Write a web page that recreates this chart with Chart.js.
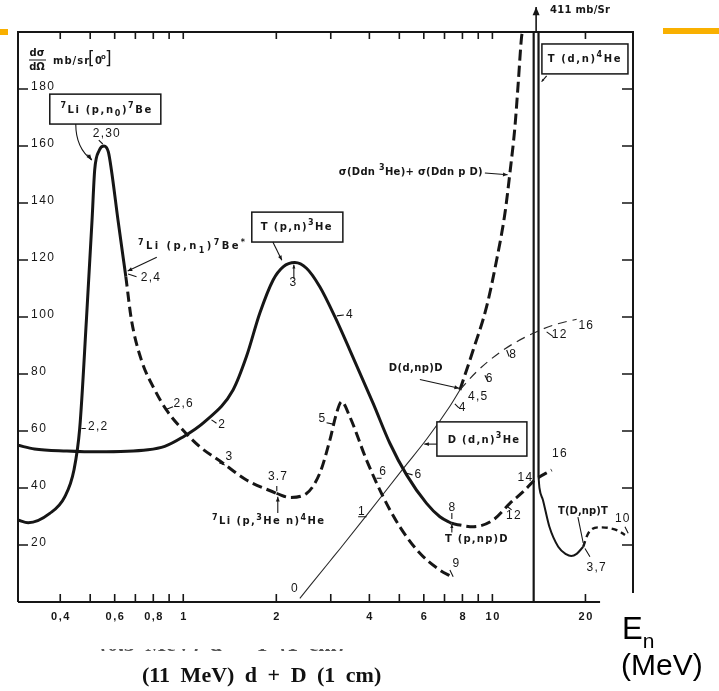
<!DOCTYPE html>
<html>
<head>
<meta charset="utf-8">
<title>Neutron source cross sections at 0°</title>
<script src="https://cdn.jsdelivr.net/npm/chart.js@4.4.0/dist/chart.umd.min.js"></script>
<style>
  html, body { margin: 0; padding: 0; background: #fff; }
  #wrap { position: relative; width: 719px; height: 691px; overflow: hidden; }
  #chart { position: absolute; left: 0; top: 0; }
  .bar { position: absolute; height: 6px; background: #f9b000; }
  .caption { position: absolute; font-family: "Liberation Serif", "Times New Roman", serif; font-weight: bold; font-size: 22px; word-spacing: 5px; color: #111; white-space: nowrap; }
  .ghost { position: absolute; left: 100px; top: 649px; width: 250px; height: 2px; overflow: hidden; }
  .ghost span { position: absolute; left: 0; top: -18px; font-family: "Liberation Serif", serif; font-weight: bold; font-size: 22px; word-spacing: 5px; color: #555; white-space: nowrap; }
  .unit { position: absolute; font-family: "Liberation Sans", Arial, sans-serif; color: #000; line-height: 1; white-space: nowrap; }
</style>
</head>
<body>
<div id="wrap">
  <canvas id="chart" width="719" height="691"></canvas>
  <div class="bar" style="left:0; top:29px; width:8px;"></div>
  <div class="bar" style="left:663px; top:28px; width:56px;"></div>
  <div class="ghost"><span>(0,5 MeV) d + T (1 cm)</span></div>
  <div class="caption" style="left:142px; top:662px;">(11 MeV) d + D (1 cm)</div>
  <div class="unit" style="left:622px; top:613px; font-size:31px;">E<span style="font-size:21px; position:relative; top:9px;">n</span></div>
  <div class="unit" style="left:621px; top:650px; font-size:30px;">(MeV)</div>
</div>

<script>
/* ------------------------------------------------------------
   Zero-degree neutron yield cross sections vs neutron energy
   ------------------------------------------------------------ */

// axes: neutron energy (MeV, log) and dσ/dΩ (mb/sr)
const xRange = [0.292, 28.5];
const yRange = [0, 200];
const xTickValues = [0.4, 0.6, 0.8, 1, 2, 4, 6, 8, 10, 20];
const xTickLabels = ['0,4', '0,6', '0,8', '1', '2', '4', '6', '8', '10', '20'];
const xMinorTicks = [0.4, 0.5, 0.6, 0.7, 0.8, 0.9, 1, 2, 3, 4, 5, 6, 7, 8, 9, 10, 20];
const yTickValues = [20, 40, 60, 80, 100, 120, 140, 160, 180];
const xAxisEnd = 22.3;      // bottom axis line stops here
const rightFrameFloor = 3.2; // right frame line stops here

// 7Li(p,n0)7Be
const li7n0E = [0.292, 0.315, 0.37, 0.4136, 0.443, 0.4624, 0.486, 0.5069, 0.517, 0.535, 0.554, 0.572, 0.5855, 0.615, 0.652];
const li7n0S = [28.8, 27.8, 31.1, 36.9, 46.3, 60.9, 98.9, 134, 151.6, 158.5, 160, 158, 151.6, 134, 114.1];

// 7Li(p,n1)7Be*
const li7n1E = [0.652, 0.68, 0.732, 0.809, 0.882, 0.987, 1.131, 1.345, 1.601, 2.003];
const li7n1S = [114.1, 98.9, 84.9, 74.4, 67.4, 60.9, 54.5, 48.7, 42.8, 38.1];

// 7Li(p,3He n)4He
const li7heE = [2.003, 2.211, 2.504, 2.765, 2.98, 3.131, 3.251, 3.458, 3.916, 4.432, 5.019, 5.828, 6.764, 7.379];
const li7heS = [38.1, 36.7, 38.1, 45.2, 56.8, 66.2, 70.3, 65, 49.8, 36.9, 26.4, 17.1, 11.2, 8.9];

// T(p,n)3He
const tpnE = [0.292, 0.33, 0.42, 0.53, 0.769, 0.871, 0.987, 1.174, 1.449, 1.601, 1.768, 1.953, 2.104, 2.296, 2.504, 2.765, 3.093, 3.458, 4.114, 4.659, 5.277, 6.124, 6.764, 7.379];
const tpnS = [55.0, 53.7, 53.0, 52.7, 53.4, 54.6, 57.6, 63.3, 74.4, 86.1, 101.3, 113, 117.6, 119.1, 117.1, 110.6, 100.1, 88.4, 69.7, 55.7, 44.6, 34.6, 29.9, 27.6];

// T(p,np)D
const tpnpE = [7.379, 7.85, 8.667, 10.06, 11.39, 12.58, 13.73, 15.55];
const tpnpS = [27.6, 27, 26.4, 28.8, 34.6, 38.7, 42.8, 46.3];

// D(d,n)3He
const ddnE = [2.383, 2.98, 3.21, 3.916, 5.144, 6.124, 7.286, 7.85];
const ddnS = [1.3, 14.3, 18.6, 30.4, 46.8, 57.1, 68.7, 74.4];

// D(d,np)D
const ddnpE = [7.85, 8.889, 10.84, 13.55, 16.13, 18.73];
const ddnpS = [74.4, 80.8, 88.4, 94.3, 97.5, 99.2];

// σ(Ddn 3He) + σ(Ddn p D)
const ddSumE = [7.85, 8.667, 9.577, 10.32, 10.98, 11.39, 11.83, 12.12, 12.43, 12.51];
const ddSumS = [74.4, 88.4, 103.6, 120, 136.4, 150.4, 166.8, 182, 198.4, 200];

// T(d,n)4He: narrow peak (runs off scale, 411 mb/sr) and its tail
const tdnRiseE = [13.6, 13.6];
const tdnRiseS = [0, 200];
const tdnFallE = [14.1, 14.1];
const tdnFallS = [200, 44];
const tdnTailE = [14.1, 14.2, 14.57, 15.29, 16.33, 17.3, 18.0, 18.73, 19.67];
const tdnTailS = [44, 40, 35.8, 26.4, 19.4, 16.8, 16.1, 16.9, 19.4];
const tdnPeak = 411;

// T(D,np)T
const tdnpE = [19.67, 20.42, 22.28, 24.01, 25.86, 26.84];
const tdnpS = [19.4, 24.1, 26.2, 25.9, 24.7, 23.5];

const INK = '#161616';

function pts(xs, ys) { return xs.map((x, i) => ({ x, y: ys[i] })); }

function curve(label, xs, ys, style) {
  return Object.assign({
    label,
    data: pts(xs, ys),
    showLine: true,
    pointRadius: 0,
    borderColor: INK,
    backgroundColor: INK,
    borderWidth: 3,
    fill: false,
    cubicInterpolationMode: 'monotone',
    borderCapStyle: 'butt'
  }, style);
}

const DASH = [10, 5];
const straight = { cubicInterpolationMode: 'default', tension: 0 };

const datasets = [
  curve('7Li(p,n0)7Be', li7n0E, li7n0S, {}),
  curve('7Li(p,n1)7Be*', li7n1E, li7n1S, { borderDash: DASH }),
  curve('7Li(p,3He n)4He', li7heE, li7heS, { borderDash: DASH }),
  curve('T(p,n)3He', tpnE, tpnS, {}),
  curve('T(p,np)D', tpnpE, tpnpS, { borderDash: DASH }),
  curve('D(d,n)3He', ddnE, ddnS, { borderWidth: 1.1, borderColor: '#2a2a2a' }),
  curve('D(d,np)D', ddnpE, ddnpS, { borderWidth: 1.2, borderDash: [9, 6], borderColor: '#2a2a2a' }),
  curve('σ(Ddn 3He)+σ(Ddn p D)', ddSumE, ddSumS, { borderDash: [11, 5] }),
  curve('T(d,n)4He rise', tdnRiseE, tdnRiseS, Object.assign({ borderWidth: 2.2 }, straight)),
  curve('T(d,n)4He fall', tdnFallE, tdnFallS, Object.assign({ borderWidth: 2.2 }, straight)),
  curve('T(d,n)4He tail', tdnTailE, tdnTailS, { borderWidth: 2 }),
  curve('T(D,np)T', tdnpE, tdnpS, { borderWidth: 2.4, borderDash: [6, 4] })
];

// text on the plot, anchored in (MeV, mb/sr)
const STYLE = {
  num: { size: 12, family: '"Liberation Sans", Arial, sans-serif', weight: 'normal', spacing: 1.2 },
  rx:  { size: 10, family: '"DejaVu Sans", Verdana, sans-serif', weight: 'bold', spacing: 1 }
};

// [text, E, S, align, style, letter spacing override]
const noteLabels = [
  ['2,30', 0.566, 164.2, 'center', 'num'],
  ['2,4', 0.729, 113.7, 'left', 'num'],
  ['2,6', 0.93, 69.5, 'left', 'num'],
  ['2,2', 0.492, 61.4, 'left', 'num'],
  ['2', 1.337, 62.1, 'center', 'num'],
  ['3', 1.41, 51, 'center', 'num'],
  ['3.7', 2.026, 43.8, 'center', 'num'],
  ['5', 2.822, 64.2, 'center', 'num'],
  ['6', 4.432, 45.7, 'center', 'num'],
  ['6', 5.763, 44.8, 'center', 'num'],
  ['1', 3.782, 31.7, 'center', 'num'],
  ['0', 2.296, 4.8, 'center', 'num'],
  ['8', 7.42, 33.1, 'center', 'num'],
  ['9', 7.656, 13.6, 'center', 'num'],
  ['12', 11.74, 30.3, 'center', 'num'],
  ['14', 12.79, 43.5, 'center', 'num'],
  ['16', 16.54, 51.9, 'center', 'num'],
  ['4,5', 8.995, 72, 'center', 'num'],
  ['4', 8.009, 68.3, 'center', 'num'],
  ['6', 9.795, 78.2, 'center', 'num'],
  ['8', 11.68, 86.9, 'center', 'num'],
  ['12', 16.51, 93.9, 'center', 'num'],
  ['16', 20.12, 96.8, 'center', 'num'],
  ['3,7', 21.74, 12, 'center', 'num'],
  ['10', 26.41, 29.4, 'center', 'num'],
  ['3', 2.274, 112, 'center', 'num'],
  ['4', 3.458, 100.9, 'center', 'num'],
  ['^{7}Li (p,n_{0})^{7}Be', 0.565, 172.6, 'center', 'rx', 1.6],
  ['^{7}Li (p,n_{1})^{7}Be^{*}', 1.073, 124.6, 'center', 'rx', 2.4],
  ['T (p,n)^{3}He', 2.33, 131.6, 'center', 'rx', 1.4],
  ['^{7}Li (p,^{3}He n)^{4}He', 1.891, 28.2, 'center', 'rx', 1.4],
  ['T (p,np)D', 8.908, 22, 'center', 'rx', 1.2],
  ['D (d,n)^{3}He', 9.4, 56.8, 'center', 'rx', 1.3],
  ['D(d,np)D', 5.654, 81.8, 'center', 'rx', 0.4],
  ['σ(Ddn ^{3}He)+ σ(Ddn p D)', 9.318, 150.9, 'right', 'rx', 0.3],
  ['T (d,n)^{4}He', 19.93, 190.5, 'center', 'rx', 1.6],
  ['T(D,np)T', 19.63, 31.9, 'center', 'rx', 0.1],
  [tdnPeak + ' mb/Sr', 15.35, 207.7, 'left', 'rx', 0.3]
];

// framed labels: [E left, S bottom, E right, S top]
const noteBoxes = [
  [0.370, 167.7, 0.846, 178.2],
  [1.666, 126.3, 3.283, 136.8],
  [6.614, 51.2, 12.93, 63.2],
  [14.46, 185.3, 27.45, 195.8]
];

// pointers with a head: [E1, S1, E2, S2, head size]
const noteArrows = [
  [0.821, 121, 0.661, 116.1, 5],
  [1.949, 126.3, 2.084, 119.9, 5],
  [2.279, 113.4, 2.279, 118.3, 4],
  [2.022, 31.2, 2.022, 36.9, 5],
  [7.393, 24.4, 7.393, 27.3, 4],
  [6.614, 55.4, 6.02, 55.4, 5],
  [5.828, 78.1, 7.8, 75, 5],
  [9.456, 150.5, 11.2, 149.9, 5],
  [14.98, 184.6, 14.43, 182.6, 3]
];

// short leader strokes from numbers to curves
const noteTicks = [
  [0.533, 162.1, 0.549, 160.7],
  [0.663, 115.1, 0.706, 114.1],
  [0.882, 67.6, 0.927, 68.5],
  [0.4684, 60.9, 0.4837, 60.9],
  [1.234, 63.9, 1.281, 62.7],
  [1.306, 48.9, 1.362, 48.1],
  [2.007, 40.7, 2.007, 38.9],
  [2.907, 62.9, 3.052, 62.4],
  [5.277, 45.2, 5.518, 44.6],
  [4.219, 43.4, 4.38, 43.4],
  [3.679, 29.9, 3.916, 29.9],
  [7.286, 11.2, 7.467, 8.9],
  [7.393, 31.2, 7.393, 29.1],
  [3.139, 100.4, 3.307, 100.7],
  [11.12, 33.7, 11.54, 32.3],
  [7.56, 69.5, 7.79, 68.1],
  [9.456, 79.6, 9.692, 77.3],
  [11.12, 88.4, 11.33, 86.1],
  [14.98, 94.8, 15.73, 93.1],
  [19.93, 18.8, 20.68, 15.9],
  [26.84, 26.4, 27.5, 24.1],
  [18.91, 29.8, 19.67, 20.7]
];

function richText(ctx, str, x, y, st, align, spacing) {
  const parts = [];
  str.replace(/([\^_])\{([^}]*)\}|([^\^_]+)/g, (m, mark, inner, plain) => {
    parts.push(plain ? { t: plain, s: 0 } : { t: inner, s: mark === '^' ? -1 : 1 });
    return m;
  });
  ctx.letterSpacing = (spacing != null ? spacing : st.spacing) + 'px';
  let w = 0;
  parts.forEach(p => {
    const sz = p.s ? st.size * 0.8 : st.size;
    p.font = `${st.weight} ${sz}px ${st.family}`;
    ctx.font = p.font;
    p.w = ctx.measureText(p.t).width;
    w += p.w;
  });
  let cx = align === 'center' ? x - w / 2 : align === 'right' ? x - w : x;
  ctx.textAlign = 'left';
  ctx.textBaseline = 'middle';
  parts.forEach(p => {
    ctx.font = p.font;
    ctx.fillText(p.t, cx, y + p.s * st.size * 0.42);
    cx += p.w;
  });
  ctx.letterSpacing = '0px';
}

function arrow(ctx, x1, y1, x2, y2, head) {
  ctx.beginPath(); ctx.moveTo(x1, y1); ctx.lineTo(x2, y2); ctx.stroke();
  const a = Math.atan2(y2 - y1, x2 - x1);
  ctx.beginPath();
  ctx.moveTo(x2, y2);
  ctx.lineTo(x2 - head * Math.cos(a - 0.4), y2 - head * Math.sin(a - 0.4));
  ctx.lineTo(x2 - head * Math.cos(a + 0.4), y2 - head * Math.sin(a + 0.4));
  ctx.closePath();
  ctx.fill();
}

// frame, inward ticks, tick labels and ordinate title
const framePlugin = {
  id: 'frame',
  afterDatasetsDraw(chart) {
    const { ctx, chartArea: a, scales: { x, y } } = chart;
    ctx.save();
    ctx.strokeStyle = INK;
    ctx.fillStyle = INK;
    ctx.lineWidth = 2;
    ctx.beginPath();
    ctx.moveTo(a.left, a.bottom); ctx.lineTo(a.left, a.top);
    ctx.lineTo(a.right, a.top); ctx.lineTo(a.right, y.getPixelForValue(rightFrameFloor));
    ctx.moveTo(a.left, a.bottom); ctx.lineTo(x.getPixelForValue(xAxisEnd), a.bottom);
    ctx.stroke();

    ctx.lineWidth = 1.6;
    ctx.beginPath();
    xMinorTicks.forEach(v => {
      const px = x.getPixelForValue(v);
      ctx.moveTo(px, a.top); ctx.lineTo(px, a.top + 7);
      ctx.moveTo(px, a.bottom); ctx.lineTo(px, a.bottom - 8);
    });
    yTickValues.forEach(v => {
      const py = y.getPixelForValue(v);
      ctx.moveTo(a.left, py); ctx.lineTo(a.left + 10, py);
      ctx.moveTo(a.right, py); ctx.lineTo(a.right - 11, py);
    });
    ctx.stroke();

    ctx.textBaseline = 'middle';
    ctx.textAlign = 'left';
    ctx.letterSpacing = '1.5px';
    ctx.font = '12px "Liberation Sans", Arial, sans-serif';
    yTickValues.forEach(v => ctx.fillText(String(v), a.left + 13, y.getPixelForValue(v) - 2.5));

    ctx.textAlign = 'center';
    ctx.font = 'bold 11px "Liberation Sans", Arial, sans-serif';
    xTickValues.forEach((v, i) => ctx.fillText(xTickLabels[i], x.getPixelForValue(v) + 0.75, a.bottom + 15));
    ctx.letterSpacing = '0px';

    // dσ/dΩ  mb/sr [0°]
    ctx.font = 'bold 10px "DejaVu Sans", sans-serif';
    ctx.fillText('dσ', a.left + 19, a.top + 21);
    ctx.fillText('dΩ', a.left + 19, a.top + 35);
    ctx.lineWidth = 1;
    ctx.beginPath(); ctx.moveTo(a.left + 11, a.top + 28); ctx.lineTo(a.left + 28, a.top + 28); ctx.stroke();
    ctx.textAlign = 'left';
    ctx.letterSpacing = '1px';
    ctx.fillText('mb/sr', a.left + 35, a.top + 29);
    ctx.letterSpacing = '0px';
    ctx.font = '17px "DejaVu Sans", sans-serif';
    ctx.fillText('[', a.left + 70, a.top + 28);
    ctx.fillText(']', a.left + 87, a.top + 28);
    ctx.font = 'bold 10px "DejaVu Sans", sans-serif';
    ctx.fillText('0', a.left + 77, a.top + 29);
    ctx.font = 'bold 7px "DejaVu Sans", sans-serif';
    ctx.fillText('o', a.left + 83, a.top + 25);
    ctx.restore();
  }
};

// reaction names, energy marks, boxes and pointers
const notesPlugin = {
  id: 'notes',
  afterDatasetsDraw(chart) {
    const { ctx, scales: { x, y } } = chart;
    const px = v => x.getPixelForValue(v);
    const py = v => y.getPixelForValue(v);
    ctx.save();
    ctx.strokeStyle = INK;
    ctx.fillStyle = INK;

    noteBoxes.forEach(([e1, s1, e2, s2]) => {
      const l = px(e1), r = px(e2), t = py(s2), b = py(s1);
      ctx.fillStyle = '#fff';
      ctx.fillRect(l, t, r - l, b - t);
      ctx.fillStyle = INK;
      ctx.lineWidth = 1.5;
      ctx.strokeRect(l, t, r - l, b - t);
    });

    ctx.lineWidth = 1.1;
    noteArrows.forEach(([e1, s1, e2, s2, h]) => arrow(ctx, px(e1), py(s1), px(e2), py(s2), h));

    ctx.beginPath();
    noteTicks.forEach(([e1, s1, e2, s2]) => { ctx.moveTo(px(e1), py(s1)); ctx.lineTo(px(e2), py(s2)); });
    ctx.stroke();

    // curved pointer from the 7Li(p,n0) box to its peak
    ctx.beginPath();
    ctx.moveTo(px(0.449), py(167.7));
    ctx.quadraticCurveTo(px(0.449), py(159.3), px(0.5058), py(155.1));
    ctx.stroke();
    arrow(ctx, px(0.49), py(157), px(0.5058), py(155.1), 6);

    // off-scale marker above the T(d,n) peak
    ctx.lineWidth = 1.6;
    arrow(ctx, px(13.85), py(200), px(13.85), py(208.8), 9);

    noteLabels.forEach(([t, e, s, align, kind, sp]) => richText(ctx, t, px(e), py(s), STYLE[kind], align, sp));
    ctx.restore();
  }
};

new Chart(document.getElementById('chart').getContext('2d'), {
  type: 'scatter',
  data: { datasets },
  options: {
    responsive: false,
    animation: false,
    devicePixelRatio: 1,
    layout: { padding: { left: 18, top: 32, right: 86, bottom: 89 } },
    plugins: { legend: { display: false }, tooltip: { enabled: false } },
    scales: {
      x: { type: 'logarithmic', min: xRange[0], max: xRange[1], display: false },
      y: { type: 'linear', min: yRange[0], max: yRange[1], display: false }
    }
  },
  plugins: [framePlugin, notesPlugin]
});
</script>
</body>
</html>
